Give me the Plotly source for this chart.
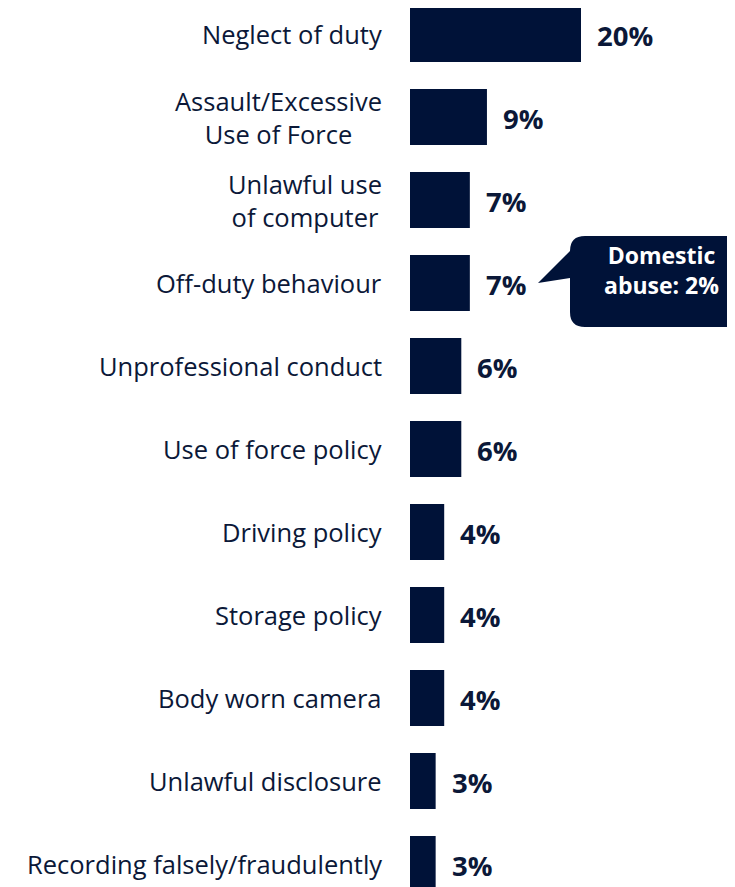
import plotly.graph_objects as go

categories = [
    "Neglect of duty",
    "Assault/Excessive<br>Use of Force",
    "Unlawful use<br>of computer",
    "Off-duty behaviour",
    "Unprofessional conduct",
    "Use of force policy",
    "Driving policy",
    "Storage policy",
    "Body worn camera",
    "Unlawful disclosure",
    "Recording falsely/fraudulently",
]
values = [20, 9, 7, 7, 6, 6, 4, 4, 4, 3, 3]
value_labels = ["20%", "9%", "7%", "7%", "6%", "6%", "4%", "4%", "4%", "3%", "3%"]
callout_text = "Domestic<br>abuse: 2%"

BAR = "#001238"
TXT = "#0b1838"
FONT = "Open Sans"

OFF = 8  # page body margin
W, H = 735 - OFF, 887 - OFF
ML = 410 - OFF
PX_PER_X = 8.55
PX_PER_Y = 83.0
TOP_CENTER = 34.0 - OFF
x_max = (W - ML) / PX_PER_X
y_top = -TOP_CENTER / PX_PER_Y
y_bot = (H - TOP_CENTER) / PX_PER_Y


def to_data(px, py):
    # px, py given in page pixels of the reference
    return (px - OFF - ML) / PX_PER_X, (py - OFF - TOP_CENTER) / PX_PER_Y


fig = go.Figure(
    go.Bar(
        x=values,
        y=categories,
        orientation="h",
        marker=dict(color=BAR, line=dict(width=0)),
        width=0.675,
        hoverinfo="skip",
    )
)

annotations = []
for cat, v, lab in zip(categories, values, value_labels):
    annotations.append(dict(
        x=0, xref="paper", y=cat, yref="y", text=cat, showarrow=False,
        xanchor="right", yanchor="middle", align="center", xshift=-26,
        font=dict(family=FONT, size=25.5, color=TXT),
    ))
    annotations.append(dict(
        x=v, xref="x", y=cat, yref="y", text="<b>" + lab + "</b>", showarrow=False,
        xanchor="left", yanchor="middle", xshift=14, yshift=-1,
        font=dict(family=FONT, size=27.5, color=TXT),
    ))

# callout bubble (pixel geometry converted to data coordinates)
L, T, R, B, r = 570, 236, 765, 327, 15
pts = [
    ("M", [(L, T + r)]),
    ("Q", [(L, T), (L + r, T)]),
    ("L", [(R - r, T)]),
    ("Q", [(R, T), (R, T + r)]),
    ("L", [(R, B - r)]),
    ("Q", [(R, B), (R - r, B)]),
    ("L", [(L + r, B)]),
    ("Q", [(L, B), (L, B - r)]),
    ("L", [(L, 278)]),
    ("L", [(538, 283)]),
    ("L", [(L, 251)]),
]
path = ""
for cmd, ps in pts:
    path += cmd + " " + " ".join("%.4f,%.4f" % to_data(*p) for p in ps) + " "
path += "Z"

cx, cy = to_data(661, 270)
annotations.append(dict(
    x=cx, xref="x", y=cy, yref="y", text="<b>" + callout_text + "</b>",
    showarrow=False, xanchor="center", yanchor="middle", align="center",
    font=dict(family=FONT, size=23, color="white"),
))

fig.update_layout(
    width=W, height=H,
    margin=dict(l=ML, r=0, t=0, b=0),
    paper_bgcolor="white", plot_bgcolor="white",
    showlegend=False,
    xaxis=dict(range=[0, x_max], visible=False, fixedrange=True),
    yaxis=dict(range=[y_bot, y_top], showticklabels=False, showgrid=False,
               zeroline=False, showline=False, ticks="", fixedrange=True),
    shapes=[dict(type="path", path=path, xref="x", yref="y",
                 fillcolor=BAR, line=dict(width=0), layer="above")],
    annotations=annotations,
)

fig.write_html("out.html", config={"displayModeBar": False})
